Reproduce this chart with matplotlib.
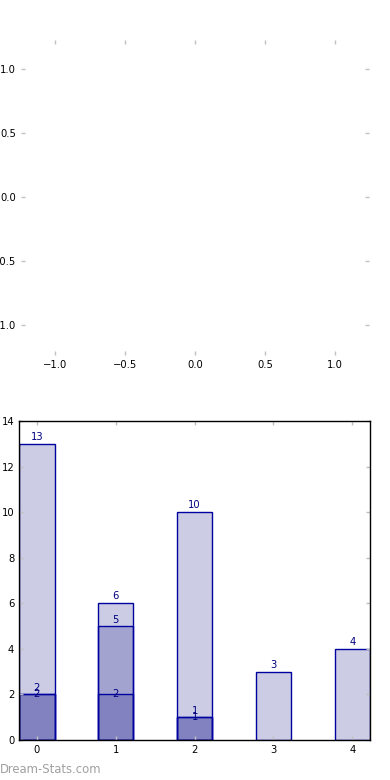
import matplotlib
matplotlib.use("Agg")
import matplotlib.pyplot as plt
import numpy as np

# data
categories = [0, 1, 2, 3, 4]
totals = [13, 6, 10, 3, 4]
second_cats = [0, 1, 2]
second_vals = [2, 5, 1]
third_cats = [0, 1, 2]
third_vals = [2, 2, 1]

bar_w = 0.45
bar_color = "navy"
edge_color = "#0000a0"
fs = 7.2

fig = plt.figure(figsize=(3.9, 7.8), dpi=100)

# top: empty axes, no frame
ax1 = fig.add_axes([0.054, 0.545, 0.892, 0.404])
ax1.set_xlim(-1.243, 1.243)
ax1.set_ylim(-1.23, 1.23)
ax1.set_xticks([-1.0, -0.5, 0.0, 0.5, 1.0])
ax1.set_yticks([-1.0, -0.5, 0.0, 0.5, 1.0])
for s in ax1.spines.values():
    s.set_visible(False)
ax1.tick_params(direction="in", length=3, width=1, color="#c0c0c0",
                labelsize=fs, top=True, right=True)

# bottom: overlapping bars
ax2 = fig.add_axes([0.049, 0.0513, 0.9, 0.4087])
ax2.bar(categories, totals, width=bar_w, color=bar_color, alpha=0.2,
        edgecolor="none")
ax2.bar(categories, totals, width=bar_w, fill=False, edgecolor=edge_color, linewidth=1)
ax2.bar(second_cats, second_vals, width=bar_w, color=bar_color, alpha=0.2,
        edgecolor="none")
ax2.bar(second_cats, second_vals, width=bar_w, fill=False, edgecolor=edge_color, linewidth=1)
ax2.bar(third_cats, third_vals, width=bar_w, color=bar_color, alpha=0.2,
        edgecolor="none")
ax2.bar(third_cats, third_vals, width=bar_w, fill=False, edgecolor=edge_color, linewidth=1)

for x, v in zip(categories, totals):
    ax2.annotate(str(v), (x, v), xytext=(0, 1.5), textcoords="offset points",
                 ha="center", va="bottom", fontsize=fs, color="navy")
for x, v in zip(second_cats, second_vals):
    ax2.annotate(str(v), (x, v), xytext=(0, 1.0), textcoords="offset points",
                 ha="center", va="bottom", fontsize=fs, color="navy")
for x, v in zip(third_cats, third_vals):
    ax2.annotate(str(v), (x, v), xytext=(0, 0), textcoords="offset points",
                 ha="center", va="center", fontsize=fs, color="navy")

ax2.set_xlim(-bar_w / 2, 4 + bar_w / 2)
ax2.set_ylim(0, 14)
ax2.set_xticks(categories)
ax2.set_yticks(np.arange(0, 15, 2))
ax2.tick_params(direction="in", length=3, width=1, color="#c0c0c0",
                labelsize=fs, top=True, right=True)
for s in ax2.spines.values():
    s.set_linewidth(1)

fig.text(0.0, 0.013, "Dream-Stats.com", fontsize=8.4, color="#a0a0a0",
         ha="left", va="center")

plt.savefig("out.png", dpi=100)
